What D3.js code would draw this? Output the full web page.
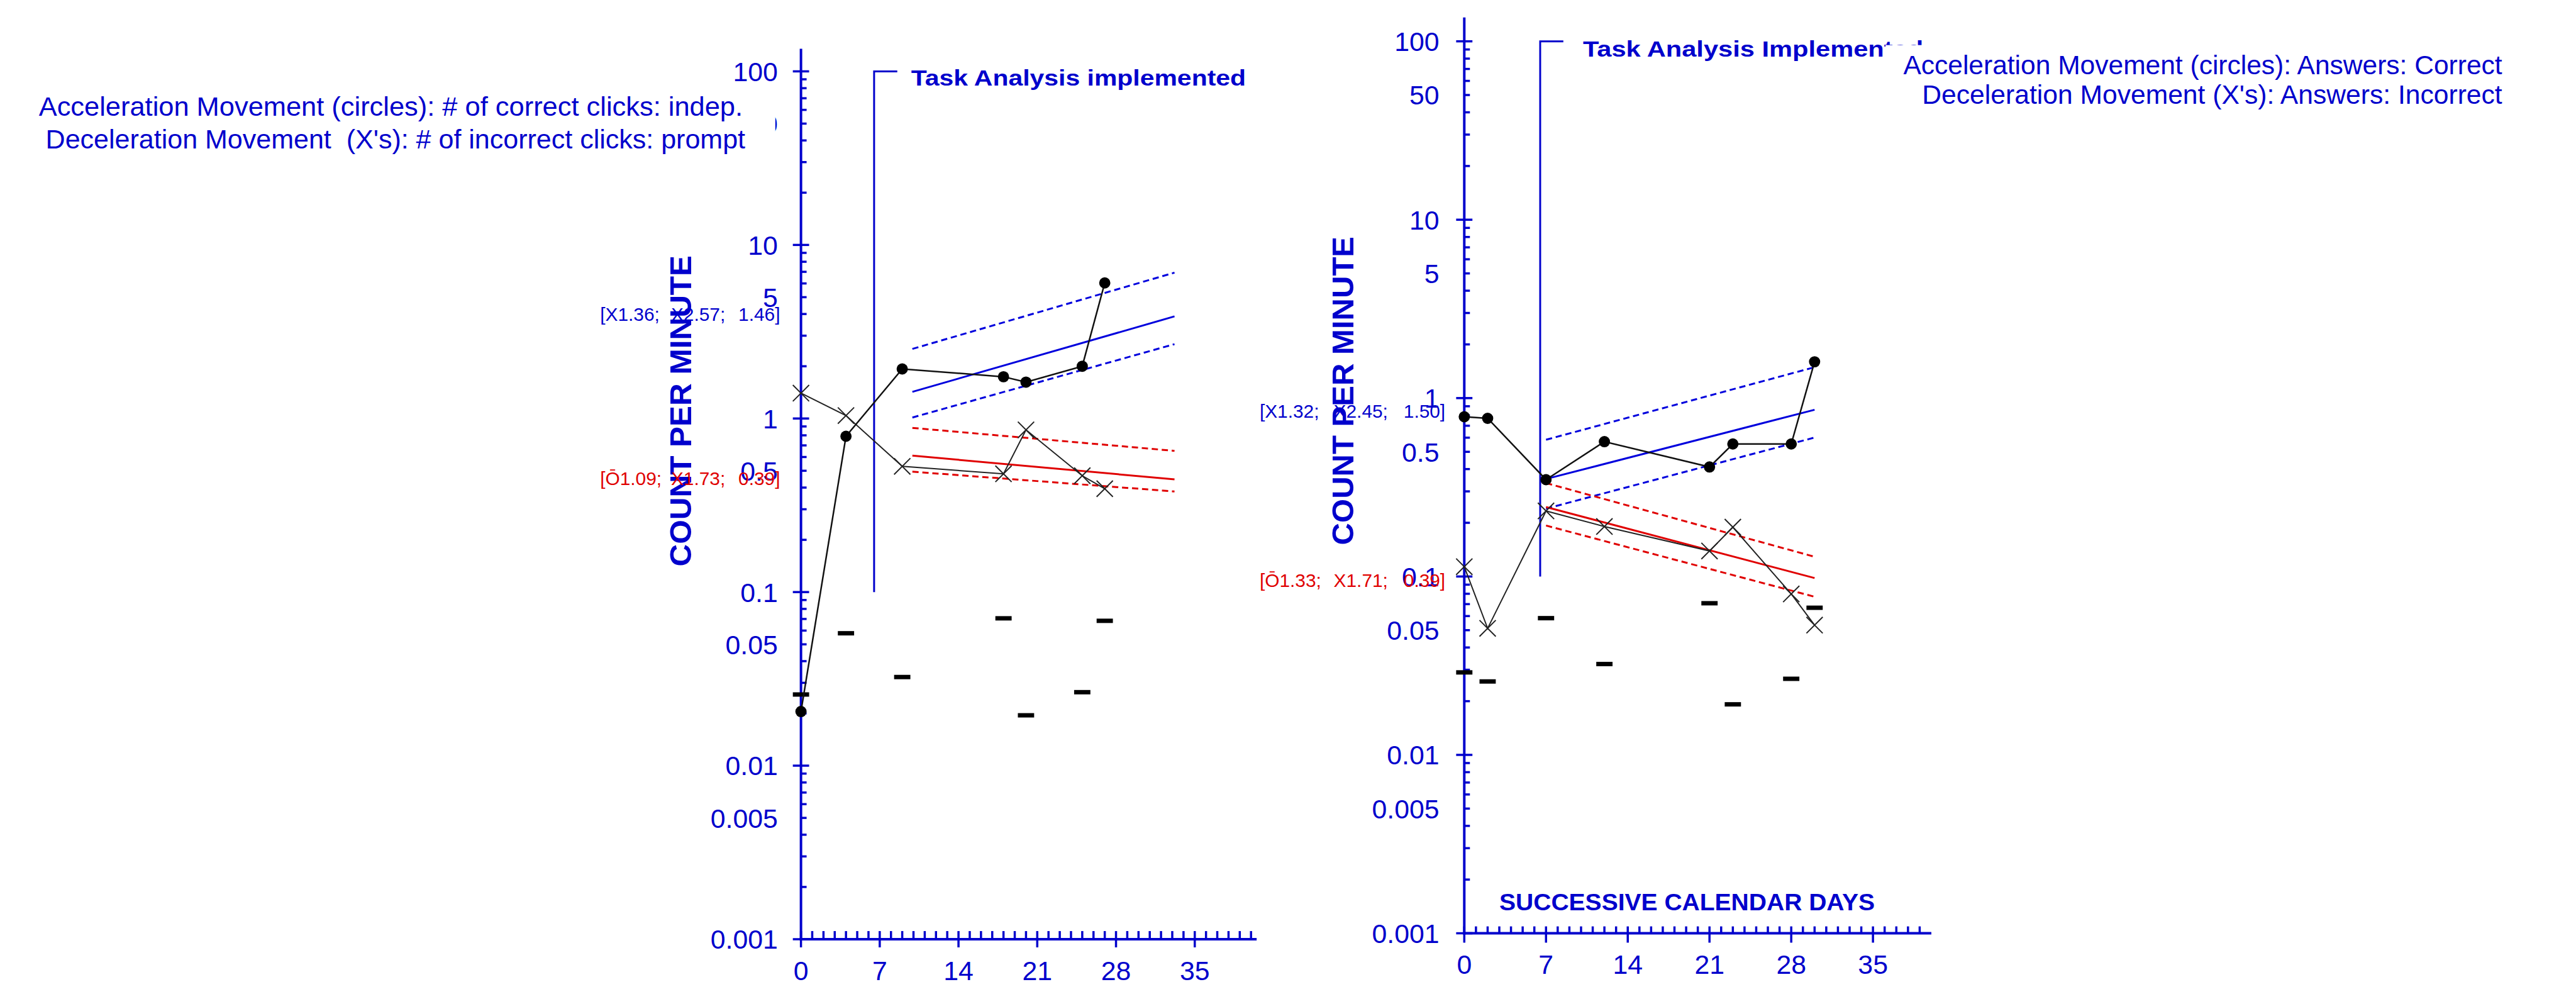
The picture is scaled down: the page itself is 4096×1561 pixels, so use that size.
<!DOCTYPE html>
<html><head><meta charset="utf-8">
<script src="https://cdn.jsdelivr.net/npm/d3@7"></script>
<style>html,body{margin:0;padding:0;background:#fff;overflow:hidden}</style>
</head><body>
<svg id="chart" width="4096" height="1561"></svg>
<script>
// ---------------- DATA ----------------
const yTickLabels = ["100","50","10","5","1","0.5","0.1","0.05","0.01","0.005","0.001"];
const xTickLabels = ["0","7","14","21","28","35"];

// Left chart
const daysLeft      = [0, 4, 9, 18, 20, 25, 27];
const correctLeft   = [0.0205, 0.79, 1.93, 1.74, 1.62, 2.0, 6.04];
const incorrectLeft = [1.40, 1.04, 0.53, 0.48, 0.86, 0.468, 0.394];
const floorLeft     = [0.0257, 0.0579, 0.0324, 0.0706, 0.0195, 0.0265, 0.0683];
// celeration lines: [startDay, startValue, endDay, endValue]
const accelLinesLeft = { solid:[9.9,1.424,33.2,3.876], upper:[9.9,2.517,33.2,6.924], lower:[9.9,1.013,33.2,2.681] };
const decelLinesLeft = { solid:[9.9,0.611,33.2,0.446], upper:[9.9,0.883,33.2,0.651], lower:[9.9,0.494,33.2,0.380] };
const accelLabelLeft = ["[X1.36;", "X2.57;", "1.46]"];
const decelLabelLeft = ["[\u014C1.09;", "X1.73;", "0.39]"];
const legendLeft = ["Acceleration Movement (circles): # of correct clicks: indep.",
                    "Deceleration Movement  (X's): # of incorrect clicks: prompt"];
const phaseTextLeft = "Task Analysis implemented";

// Right chart
const daysRight      = [0, 2, 7, 12, 21, 23, 28, 30];
const correctRight   = [0.786, 0.77, 0.349, 0.57, 0.411, 0.553, 0.553, 1.598];
const incorrectRight = [0.1135, 0.0512, 0.233, 0.1906, 0.139, 0.189, 0.0798, 0.0534];
const floorRight     = [0.029, 0.0258, 0.0584, 0.0323, 0.0708, 0.0192, 0.0267, 0.0668];
const accelLinesRight = { solid:[7,0.352,30,0.86], upper:[7,0.584,30,1.49], lower:[7,0.24,30,0.601] };
const decelLinesRight = { solid:[7,0.245,30,0.098], upper:[7,0.334,30,0.129], lower:[7,0.193,30,0.077] };
const accelLabelRight = ["[X1.32;", "X2.45;", "1.50]"];
const decelLabelRight = ["[\u014C1.33;", "X1.71;", "0.39]"];
const legendRight = ["Acceleration Movement (circles): Answers: Correct",
                     "Deceleration Movement (X's): Answers: Incorrect"];
const phaseTextRight = "Task Analysis Implemented";
const phaseDay = 6.5;
const yAxisTitle = "COUNT PER MINUTE";
const xAxisTitle = "SUCCESSIVE CALENDAR DAYS";

// ---------------- DRAW ----------------
const BLUE = "#0000cc", LBLUE = "#0000dd", RED = "#e00000";
const FONT = "'Liberation Sans', Arial, sans-serif";
const svg = d3.select("#chart");
const root = svg.append("g").attr("transform", "scale(0.995)");

function drawPanel(p) {
  const g = root.append("g");
  const x = d3.scaleLinear().domain([0, 35]).range([p.x0, p.x0 + 35 * p.perDay]);
  const y = d3.scaleLog().domain([0.001, 100]).range([p.yBottom, p.yTop]);
  const X0 = x(0), Y0 = y(0.001);

  // axis lines
  g.append("line").attr("x1", X0).attr("x2", X0).attr("y1", p.axisTop).attr("y2", Y0 + 2)
    .attr("stroke", BLUE).attr("stroke-width", 4);
  g.append("line").attr("x1", X0 - 2).attr("x2", x(p.axisEndDay)).attr("y1", Y0).attr("y2", Y0)
    .attr("stroke", BLUE).attr("stroke-width", 4);

  // x ticks
  d3.range(0, p.lastTick + 1).forEach(d => {
    const major = d % 7 === 0;
    g.append("line").attr("x1", x(d)).attr("x2", x(d))
      .attr("y1", Y0 - p.minorUp).attr("y2", major ? Y0 + p.majorDown : Y0)
      .attr("stroke", BLUE).attr("stroke-width", 3.5);
  });
  // y ticks
  for (let e = -3; e <= 2; e++) {
    const v = Math.pow(10, e);
    g.append("line").attr("x1", X0 - 13).attr("x2", X0 + 13).attr("y1", y(v)).attr("y2", y(v))
      .attr("stroke", BLUE).attr("stroke-width", 3.5);
    if (e < 2) for (let m = 2; m <= 9; m++) {
      const vv = m * v;
      g.append("line").attr("x1", X0).attr("x2", X0 + 9).attr("y1", y(vv)).attr("y2", y(vv))
        .attr("stroke", BLUE).attr("stroke-width", 3.5);
    }
  }
  // y tick labels
  yTickLabels.forEach(t => {
    g.append("text").attr("x", p.yLabelRight).attr("y", y(+t)).attr("dy", "0.36em")
      .attr("text-anchor", "end").attr("font-family", FONT).attr("font-size", 43)
      .attr("fill", BLUE).text(t);
  });
  // x tick labels
  xTickLabels.forEach(t => {
    g.append("text").attr("x", x(+t)).attr("y", p.xLabelBaseline)
      .attr("text-anchor", "middle").attr("font-family", FONT).attr("font-size", 43)
      .attr("fill", BLUE).text(t);
  });

  // y axis title
  g.append("text").attr("transform", `translate(${p.yTitleX},${p.yTitleY}) rotate(-90)`)
    .attr("text-anchor", "middle").attr("font-family", FONT).attr("font-weight", "bold")
    .attr("font-size", 49).attr("fill", BLUE)
    .attr("textLength", p.yTitleLen).attr("lengthAdjust", "spacingAndGlyphs").text(yAxisTitle);

  // phase line
  const px = x(phaseDay);
  g.append("path").attr("d", `M${px},${y(0.1)} V${y(100)} H${px + 37}`)
    .attr("fill", "none").attr("stroke", BLUE).attr("stroke-width", 3);
  g.append("text").attr("x", p.phaseTextX).attr("y", p.phaseTextY)
    .attr("font-family", FONT).attr("font-weight", "bold").attr("font-size", 35)
    .attr("fill", BLUE).attr("textLength", p.phaseTextLen).attr("lengthAdjust", "spacingAndGlyphs")
    .text(p.phaseText);

  // celeration lines
  function celLine(arr, color, dashed) {
    g.append("line").attr("x1", x(arr[0])).attr("y1", y(arr[1]))
      .attr("x2", x(arr[2])).attr("y2", y(arr[3]))
      .attr("stroke", color).attr("stroke-width", 3)
      .attr("stroke-dasharray", dashed ? "10,6" : null);
  }
  celLine(p.accel.upper, LBLUE, true); celLine(p.accel.lower, LBLUE, true); celLine(p.accel.solid, LBLUE, false);
  celLine(p.decel.upper, RED, true); celLine(p.decel.lower, RED, true); celLine(p.decel.solid, RED, false);

  // floor dashes
  p.days.forEach((d, i) => {
    g.append("rect").attr("x", x(d) - 13).attr("y", y(p.floor[i]) - 3.5)
      .attr("width", 26).attr("height", 7).attr("fill", "#000");
  });

  // data lines
  const line = d3.line().x(d => x(d[0])).y(d => y(d[1]));
  g.append("path").attr("d", line(p.days.map((d, i) => [d, p.incorrect[i]])))
    .attr("fill", "none").attr("stroke", "#222").attr("stroke-width", 2);
  g.append("path").attr("d", line(p.days.map((d, i) => [d, p.correct[i]])))
    .attr("fill", "none").attr("stroke", "#111").attr("stroke-width", 2.5);
  // X markers
  p.days.forEach((d, i) => {
    const cx = x(d), cy = y(p.incorrect[i]), s = 13;
    g.append("path").attr("d", `M${cx - s},${cy - s}L${cx + s},${cy + s}M${cx - s},${cy + s}L${cx + s},${cy - s}`)
      .attr("stroke", "#222").attr("stroke-width", 2).attr("fill", "none");
  });
  // circles
  p.days.forEach((d, i) => {
    g.append("circle").attr("cx", x(d)).attr("cy", y(p.correct[i])).attr("r", 9).attr("fill", "#000");
  });

  // annotation labels
  function annot(chunks, yBase, color) {
    const t = g.append("text").attr("font-family", FONT).attr("font-size", 30).attr("fill", color);
    t.append("tspan").attr("x", p.annX).attr("y", yBase).text(chunks[0]);
    t.append("tspan").attr("x", p.annX + p.annC2).attr("y", yBase).attr("text-anchor", "end").text(chunks[1]);
    t.append("tspan").attr("x", p.annX + p.annC3).attr("y", yBase).text(chunks[2]);
  }
  annot(p.accelLabel, p.accelLabelY, BLUE);
  annot(p.decelLabel, p.decelLabelY, RED);

  // legend (white box hides what is beneath)
  g.append("rect").attr("x", p.legBox[0]).attr("y", p.legBox[1]).attr("width", p.legBox[2])
    .attr("height", p.legBox[3]).attr("fill", "#fff");
  p.legend.forEach((txt, i) => {
    g.append("text").attr("x", p.legX[i]).attr("y", p.legY[i]).attr("font-family", FONT)
      .attr("font-size", 42).attr("fill", BLUE).attr("textLength", p.legLen[i])
      .attr("lengthAdjust", "spacingAndGlyphs").attr("xml:space", "preserve").text(txt);
  });
  return {x, y, g};
}

drawPanel({
  x0: 1280, perDay: 17.98, yTop: 114, yBottom: 1500.5, axisTop: 78, axisEndDay: 40.5, lastTick: 40,
  minorUp: 13, majorDown: 13, yLabelRight: 1243, xLabelBaseline: 1566,
  yTitleX: 1105, yTitleY: 656.5, yTitleLen: 497,
  phaseText: phaseTextLeft, phaseTextX: 1456, phaseTextY: 137, phaseTextLen: 535,
  days: daysLeft, correct: correctLeft, incorrect: incorrectLeft, floor: floorLeft,
  accel: accelLinesLeft, decel: decelLinesLeft,
  accelLabel: accelLabelLeft, decelLabel: decelLabelLeft,
  annX: 959, annC2: 200, annC3: 221, accelLabelY: 513, decelLabelY: 775,
  legBox: [30, 146, 1209, 104], legend: legendLeft,
  legX: [62, 73], legY: [185, 236.7], legLen: [1125, 1118]
});

const right = drawPanel({
  x0: 2340, perDay: 18.66, yTop: 66, yBottom: 1491, axisTop: 28, axisEndDay: 40, lastTick: 39,
  minorUp: 11, majorDown: 15, yLabelRight: 2300, xLabelBaseline: 1556,
  yTitleX: 2163, yTitleY: 624.3, yTitleLen: 493,
  phaseText: phaseTextRight, phaseTextX: 2529.6, phaseTextY: 90.8, phaseTextLen: 544,
  days: daysRight, correct: correctRight, incorrect: incorrectRight, floor: floorRight,
  accel: accelLinesRight, decel: decelLinesRight,
  accelLabel: accelLabelRight, decelLabel: decelLabelRight,
  annX: 2013, annC2: 205, annC3: 230, accelLabelY: 667, decelLabelY: 938,
  legBox: [3013, 72, 1060, 110], legend: legendRight,
  legX: [3041.6, 3071.7], legY: [118.3, 166], legLen: [957, 927]
});

// x axis title (right chart only)
right.g.append("text").attr("x", 2396).attr("y", 1454.3)
  .attr("font-family", FONT).attr("font-weight", "bold").attr("font-size", 37)
  .attr("fill", BLUE).attr("textLength", 600).attr("lengthAdjust", "spacingAndGlyphs")
  .text(xAxisTitle);
</script>
</body></html>
